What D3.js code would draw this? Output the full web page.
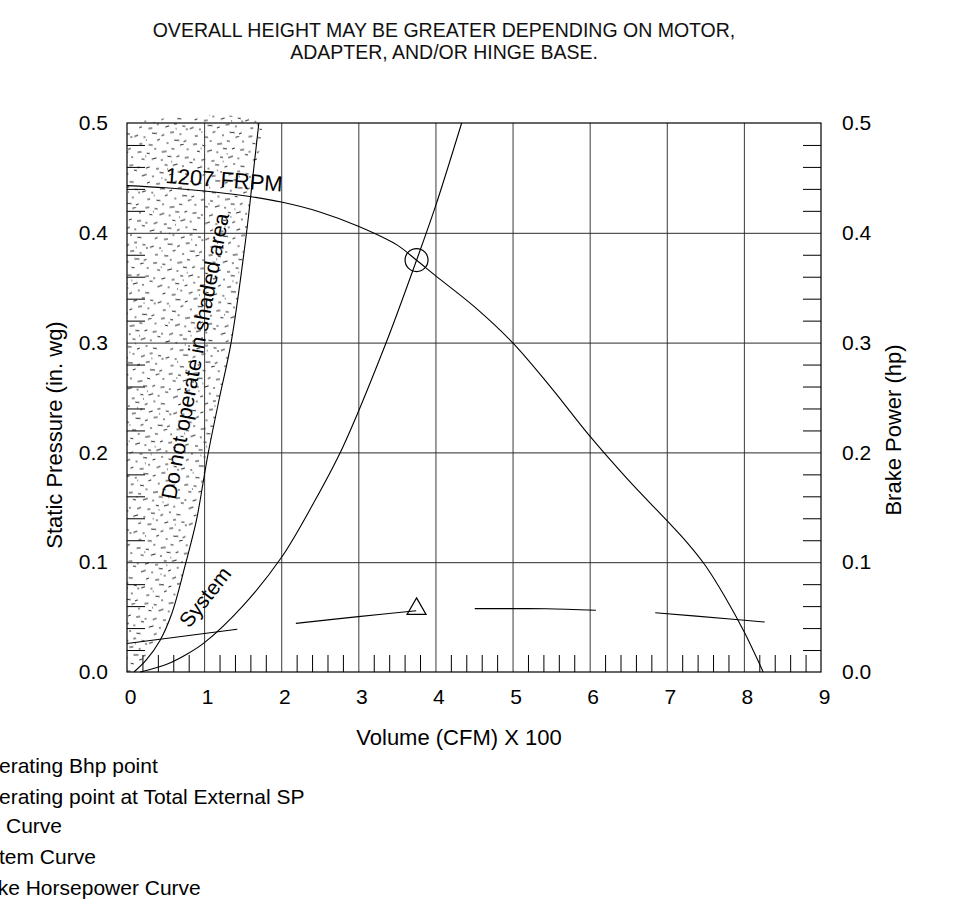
<!DOCTYPE html>
<html><head><meta charset="utf-8">
<script src="https://cdn.jsdelivr.net/npm/d3@7"></script>
<style>
body{margin:0;background:#fff}
svg{display:block;font-family:"Liberation Sans",Arial,Helvetica,sans-serif}
</style>
</head><body>
<svg id="c" width="970" height="923"></svg>
<script>
// ---------- data ----------
const titleLines = ["OVERALL HEIGHT MAY BE GREATER DEPENDING ON MOTOR,", "ADAPTER, AND/OR HINGE BASE."];
const xTickValues = [0, 1, 2, 3, 4, 5, 6, 7, 8, 9];
const yTickValues = [0, 0.1, 0.2, 0.3, 0.4, 0.5];
const xLabel = "Volume (CFM) X 100";
const yLabelLeft = "Static Pressure (in. wg)";
const yLabelRight = "Brake Power (hp)";
const fanLabel = "1207 FRPM";
const shadeLabel = "Do not operate in shaded area";
const systemLabel = "System";

const fanCurve = [[0,0.443],[0.5,0.441],[1,0.438],[1.5,0.434],[2,0.428],[2.5,0.419],[3,0.406],[3.5,0.389],
  [3.755,0.375],[4,0.361],[4.5,0.333],[5,0.300],[5.5,0.259],[6,0.215],[6.5,0.175],[7,0.138],[7.25,0.119],
  [7.5,0.097],[7.75,0.069],[8,0.037],[8.25,0.0]];
const systemCurve = [[0.17,0.0],[0.5,0.0066],[0.77,0.016],[1,0.0265],[1.5,0.060],[2,0.104],[2.42,0.154],
  [2.8,0.205],[3.35,0.298],[3.755,0.375],[4,0.424],[4.34,0.5]];
const shadedBoundary = [[0.09,0.0],[0.25,0.011],[0.43,0.029],[0.58,0.053],[0.765,0.1],[0.9,0.138],[1.0,0.178],
  [1.055,0.2],[1.2,0.25],[1.35,0.3],[1.55,0.4],[1.63,0.45],[1.71,0.5]];
const bhpSegments = [
  [[0,0.026],[1.43,0.039]],
  [[2.19,0.0443],[3.0,0.0504],[3.75,0.0558]],
  [[4.51,0.0577],[5.0,0.0577],[5.44,0.0576],[6.08,0.0562]],
  [[6.85,0.0540],[7.82,0.0483],[8.27,0.0455]]
];
const operatingPoint = [3.755, 0.3752];
const bhpPoint = [3.755, 0.0575];
const legendItems = ["Operating Bhp point", "Operating point at Total External SP", "Fan Curve", "System Curve", "Brake Horsepower Curve"];

// stipple dashes for the shaded-area texture tile: [x, y, length]
const stipple = [[3,2,4],[12,4,3],[20,1,2],[27,5,5],[37,3,3],[46,1,4],[52,6,2],
  [6,9,3],[16,11,5],[25,13,2],[32,10,4],[41,12,3],[49,14,4],
  [1,17,2],[9,19,4],[19,21,3],[28,18,3],[36,20,5],[45,22,2],[53,19,3],
  [4,26,5],[14,28,2],[22,25,4],[31,29,3],[40,27,2],[47,30,4],
  [8,34,3],[17,36,4],[26,33,2],[34,37,4],[43,35,3],[51,38,3],
  [2,42,4],[11,44,2],[20,41,5],[29,45,3],[38,43,4],[47,46,2],[54,42,2],
  [6,50,3],[15,52,4],[24,49,3],[33,53,2],[41,51,5],[50,54,3],
  [10,7,1],[35,16,1],[23,31,1],[44,40,1],[13,47,1],[30,23,1]];

// ---------- layout ----------
const svg = d3.select("#c");
const x = d3.scaleLinear().domain([0, 9]).range([127, 821]);
const y = d3.scaleLinear().domain([0, 0.5]).range([672, 123]);
const FONT = 21;

// pattern
const defs = svg.append("defs");
const pat = defs.append("pattern").attr("id", "stip").attr("patternUnits", "userSpaceOnUse")
  .attr("width", 56).attr("height", 56).attr("patternTransform", "rotate(-8)");
pat.append("rect").attr("width", 56).attr("height", 56).attr("fill", "#fff");
pat.selectAll("line").data(stipple).join("line")
  .attr("x1", d => d[0]).attr("y1", d => d[1])
  .attr("x2", d => d[0] + d[2]).attr("y2", (d, i) => d[1] + (d[2] > 2 ? [0, 1, -1][i % 3] : 0))
  .attr("stroke", "#222").attr("stroke-width", 1);

// title
svg.append("g").selectAll("text").data(titleLines).join("text")
  .attr("x", 444).attr("y", (d, i) => 37 + i * 21.5)
  .attr("text-anchor", "middle").attr("font-size", 19.5).attr("fill", "#111")
  .text(d => d);

// shaded region
const shadePoly = [[0, 0]].concat(shadedBoundary).concat([[0, 0.5]]);
svg.append("path")
  .attr("d", d3.line().x(d => x(d[0])).y(d => y(d[1])).curve(d3.curveCatmullRom)(shadePoly) + "Z")
  .attr("fill", "url(#stip)");

// grid lines
svg.append("g").attr("transform", `translate(0,${y(0)})`)
  .call(d3.axisBottom(x).tickValues([1,2,3,4,5,6,7,8]).tickSize(-(y(0) - y(0.5))).tickFormat(""))
  .call(g => g.select(".domain").remove())
  .selectAll("line").attr("stroke", "#3a3a3a").attr("stroke-width", 1);
svg.append("g").attr("transform", `translate(${x(0)},0)`)
  .call(d3.axisLeft(y).tickValues([0.1,0.2,0.3,0.4]).tickSize(-(x(9) - x(0))).tickFormat(""))
  .call(g => g.select(".domain").remove())
  .selectAll("line").attr("stroke", "#2a2a2a").attr("stroke-width", 1);

// minor ticks
const xMinor = x.ticks(36).filter(v => Math.abs(v - Math.round(v)) > 1e-6);
const yMinor = y.ticks(20).filter(v => Math.abs(v * 10 - Math.round(v * 10)) > 1e-6);
svg.append("g").attr("transform", `translate(0,${y(0)})`)
  .call(d3.axisBottom(x).tickValues(xMinor).tickSize(-17).tickFormat(""))
  .call(g => g.select(".domain").remove())
  .selectAll("line").attr("stroke", "#000");
svg.append("g").attr("transform", `translate(${x(0)},0)`)
  .call(d3.axisLeft(y).tickValues(yMinor).tickSize(-18).tickFormat(""))
  .call(g => g.select(".domain").remove())
  .selectAll("line").attr("stroke", "#000");
svg.append("g").attr("transform", `translate(${x(9)},0)`)
  .call(d3.axisRight(y).tickValues(yMinor).tickSize(-18).tickFormat(""))
  .call(g => g.select(".domain").remove())
  .selectAll("line").attr("stroke", "#000");

// frame
svg.append("rect").attr("x", x(0)).attr("y", y(0.5))
  .attr("width", x(9) - x(0)).attr("height", y(0) - y(0.5))
  .attr("fill", "none").attr("stroke", "#000").attr("stroke-width", 1.2);

// tick labels
const lab = g => g.call(s => s.select(".domain").remove())
  .call(s => s.selectAll("text").attr("font-size", FONT).attr("fill", "#000")
    .attr("font-family", '"Liberation Sans",Arial,sans-serif'));
svg.append("g").attr("transform", `translate(0,${y(0)})`)
  .call(d3.axisBottom(x).tickValues(xTickValues).tickSize(0).tickPadding(17).tickFormat(d3.format("d")))
  .call(lab).selectAll("text").attr("dx", 3);
svg.append("g").attr("transform", `translate(${x(0)},0)`)
  .call(d3.axisLeft(y).tickValues(yTickValues).tickSize(0).tickPadding(19).tickFormat(d3.format(".1f")))
  .call(lab);
svg.append("g").attr("transform", `translate(${x(9)},0)`)
  .call(d3.axisRight(y).tickValues(yTickValues).tickSize(0).tickPadding(21).tickFormat(d3.format(".1f")))
  .call(lab);

// axis titles
svg.append("text").attr("x", 459).attr("y", 745).attr("text-anchor", "middle")
  .attr("font-size", 22).text(xLabel);
svg.append("text").attr("transform", "translate(62,435) rotate(-90)").attr("text-anchor", "middle")
  .attr("font-size", 22).text(yLabelLeft);
svg.append("text").attr("transform", "translate(901,430) rotate(-90)").attr("text-anchor", "middle")
  .attr("font-size", 22).text(yLabelRight);

// curves
const line = d3.line().x(d => x(d[0])).y(d => y(d[1])).curve(d3.curveCatmullRom);
const st = p => p.attr("fill", "none").attr("stroke", "#000").attr("stroke-width", 1.1);
svg.append("path").attr("d", line(shadedBoundary)).call(st);
svg.append("path").attr("d", line(fanCurve)).call(st);
svg.append("path").attr("d", line(systemCurve)).call(st);
svg.append("g").selectAll("path").data(bhpSegments).join("path")
  .attr("d", d => line(d)).call(st);

// markers
svg.append("circle").attr("cx", x(operatingPoint[0])).attr("cy", y(operatingPoint[1])).attr("r", 11.5)
  .attr("fill", "none").attr("stroke", "#000").attr("stroke-width", 1.2);
svg.append("path").attr("transform", `translate(${x(bhpPoint[0])},${y(bhpPoint[1])})`)
  .attr("d", d3.symbol(d3.symbolTriangle, 156)())
  .attr("fill", "none").attr("stroke", "#000").attr("stroke-width", 1.2);

// in-plot labels
svg.append("text").attr("transform", "translate(165,183) rotate(4.2)")
  .attr("font-size", 22).text(fanLabel);
svg.append("text").attr("transform", "translate(195,356) rotate(-79.4)")
  .attr("text-anchor", "middle").attr("dy", "0.35em").attr("font-size", 21.5).text(shadeLabel);
svg.append("text").attr("transform", "translate(205,597) rotate(-52)")
  .attr("text-anchor", "middle").attr("dy", "0.35em").attr("font-size", 21).text(systemLabel);

// legend (cut off at the left edge, as in the source)
const legendY = [773, 804, 833, 864, 895];
const legendX = [-29, -29, -36, -36, -35];
svg.append("g").selectAll("text").data(legendItems).join("text")
  .attr("x", (d, i) => legendX[i]).attr("y", (d, i) => legendY[i])
  .attr("font-size", 21).attr("fill", "#000").text(d => d);
</script>
</body></html>
